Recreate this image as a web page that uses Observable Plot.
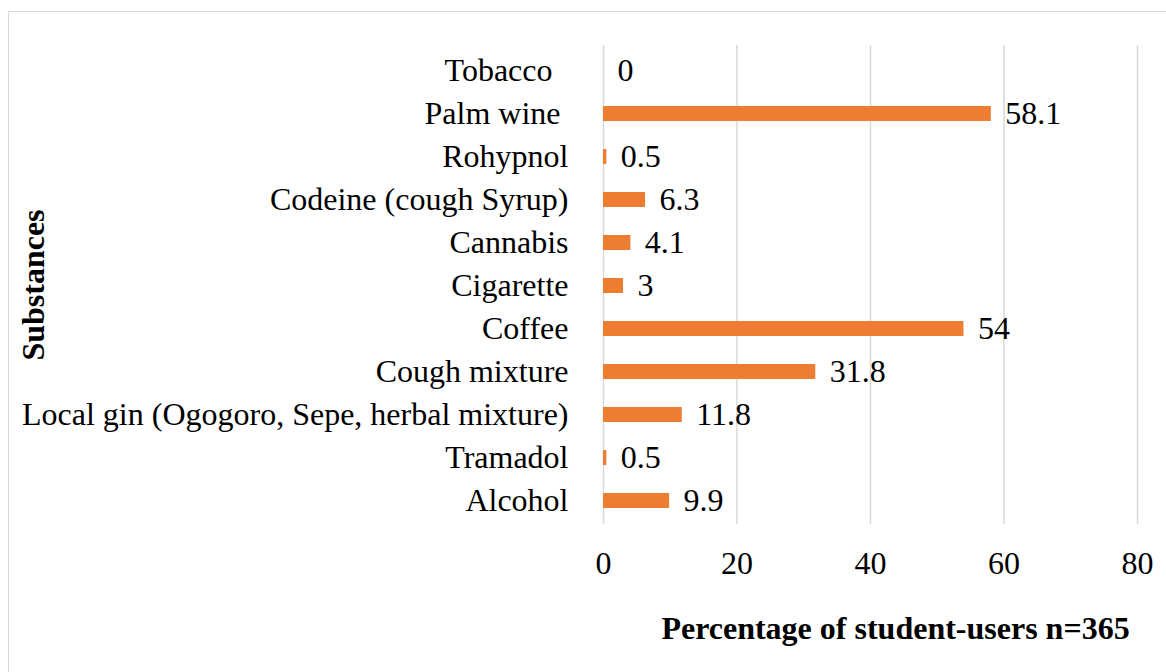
<!DOCTYPE html>
<html>
<head>
<meta charset="utf-8">
<script src="https://cdn.jsdelivr.net/npm/d3@7"></script>
<script src="https://cdn.jsdelivr.net/npm/@observablehq/plot@0.6"></script>
<style>
  html, body { margin: 0; padding: 0; background: #fff; overflow: hidden; }
  #wrap { position: relative; width: 1166px; height: 672px; overflow: hidden; }
  #border { position: absolute; left: 8px; top: 11px; width: 1200px; height: 700px; border: 1.5px solid #d9d9d9; box-sizing: border-box; }
  #chart { position: absolute; left: 0; top: 0; }
  svg text { white-space: pre; font-family: "Liberation Serif", "Times New Roman", serif !important; font-variant: normal !important; }
</style>
</head>
<body>
<div id="wrap"><div id="border"></div><div id="chart"></div></div>
<script>
const substances = [
  "Tobacco  ",
  "Palm wine ",
  "Rohypnol",
  "Codeine (cough Syrup)",
  "Cannabis",
  "Cigarette",
  "Coffee",
  "Cough mixture",
  "Local gin (Ogogoro, Sepe, herbal mixture)",
  "Tramadol",
  "Alcohol"
];
const percentages = [0, 58.1, 0.5, 6.3, 4.1, 3, 54, 31.8, 11.8, 0.5, 9.9];
const xTicks = [0, 20, 40, 60, 80];
const xTitle = "Percentage of student-users n=365";
const yTitle = "Substances";

const data = substances.map((s, i) => ({substance: s, value: percentages[i]}));
const serif = "'Liberation Serif', 'Times New Roman', serif";

const chart = Plot.plot({
  width: 1166,
  height: 672,
  marginLeft: 603,
  marginRight: 29,
  marginTop: 45,
  marginBottom: 148,
  style: {fontFamily: serif, fontSize: "32px", color: "#000", background: "transparent"},
  x: {domain: [0, 80]},
  y: {domain: substances, range: [37.9, 532.5], paddingInner: 0.656, paddingOuter: 0.5},
  marks: [
    Plot.gridX(xTicks, {stroke: "#d9d9d9", strokeOpacity: 1, strokeWidth: 1.5}),
    Plot.axisX({ticks: xTicks, tickSize: 0, tickPadding: 27, label: null, fontSize: 32, fontFamily: serif}),
    Plot.axisY({tickSize: 0, tickPadding: 35, label: null, fontSize: 32, fontFamily: serif}),
    Plot.barX(data, {x: "value", y: "substance", fill: "#ED7D31"}),
    Plot.text(data, {x: "value", y: "substance", text: d => String(d.value), textAnchor: "start", dx: 14, fontSize: 32, fontFamily: serif, fill: "#000"}),
    Plot.text([xTitle], {frameAnchor: "bottom", dy: 104, dx: 25, textAnchor: "middle", lineAnchor: "middle", fontWeight: "bold", fontSize: 32, fontFamily: serif, fill: "#000"}),
    Plot.text([yTitle], {frameAnchor: "left", dx: -570, rotate: -90, textAnchor: "middle", lineAnchor: "middle", fontWeight: "bold", fontSize: 32, fontFamily: serif, fill: "#000"})
  ]
});
document.getElementById("chart").appendChild(chart);
</script>
</body>
</html>
